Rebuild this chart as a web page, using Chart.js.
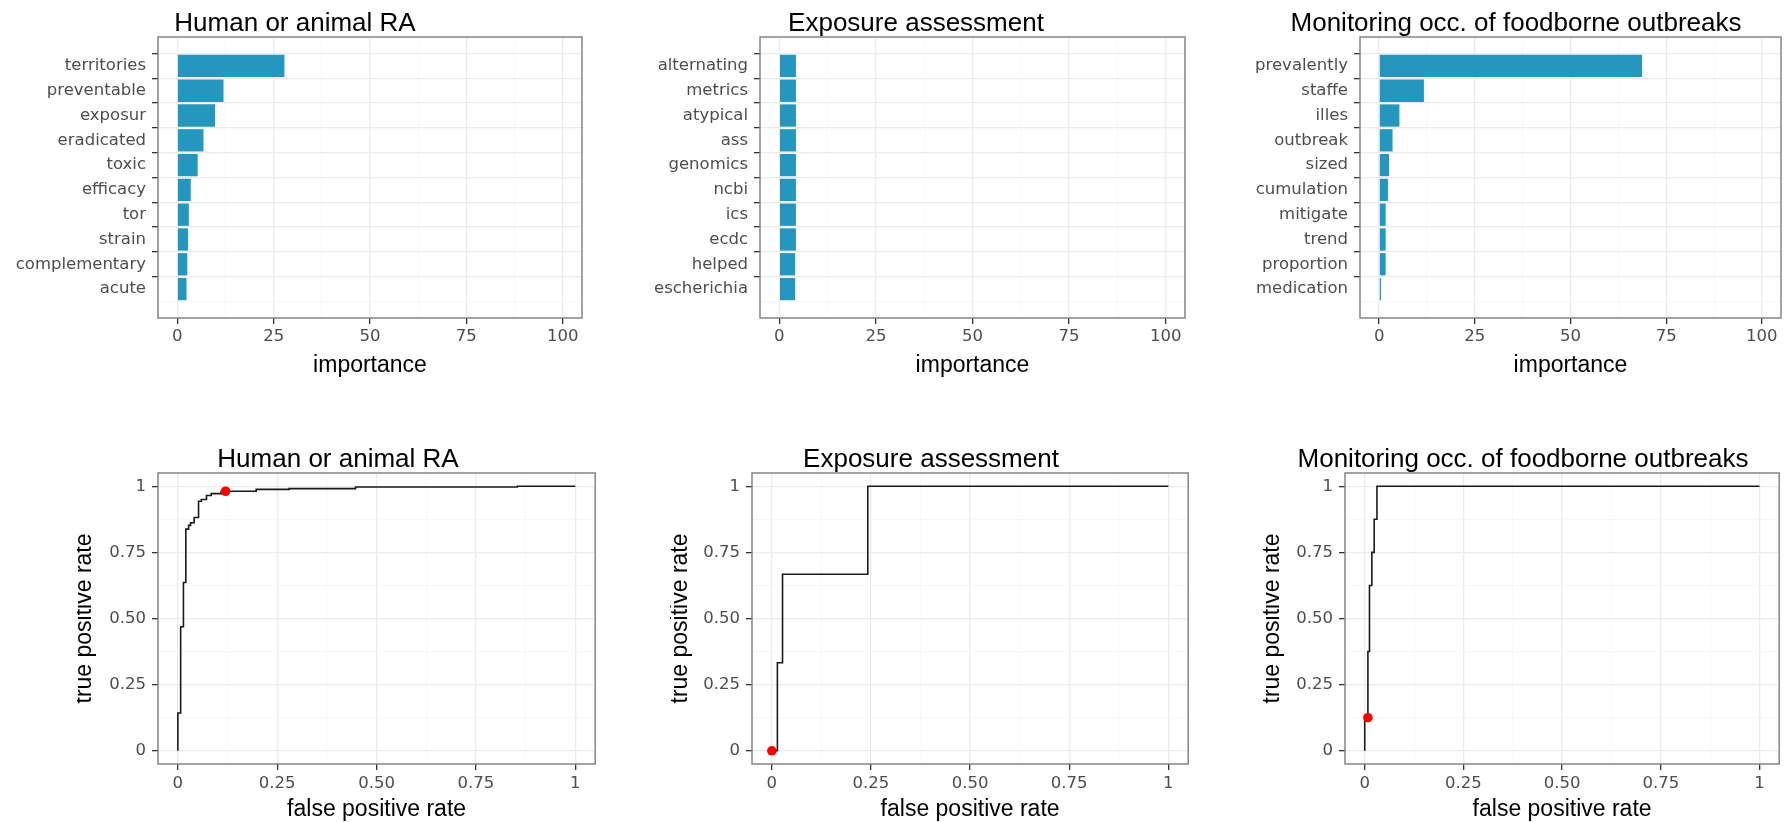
<!DOCTYPE html>
<html><head><meta charset="utf-8">
<script src="https://cdn.jsdelivr.net/npm/chart.js@4.4.1/dist/chart.umd.min.js"></script>
<style>
html,body{margin:0;padding:0;background:#fff;width:1784px;height:822px;overflow:hidden;position:relative}
canvas{position:absolute;display:block}
</style></head><body>
<canvas id="bar1"></canvas><canvas id="bar2"></canvas><canvas id="bar3"></canvas>
<canvas id="roc1"></canvas><canvas id="roc2"></canvas><canvas id="roc3"></canvas>
<script>
// ---------- data ----------
const panelTitles = ["Human or animal RA", "Exposure assessment", "Monitoring occ. of foodborne outbreaks"];

const humanTerms = ["territories","preventable","exposur","eradicated","toxic","efficacy","tor","strain","complementary","acute"];
const humanImportance = [27.8, 12.0, 9.8, 6.8, 5.3, 3.5, 3.0, 2.8, 2.6, 2.4];

const exposureTerms = ["alternating","metrics","atypical","ass","genomics","ncbi","ics","ecdc","helped","escherichia"];
const exposureImportance = [4.3, 4.3, 4.3, 4.3, 4.3, 4.3, 4.3, 4.3, 4.1, 4.1];

const monitoringTerms = ["prevalently","staffe","illes","outbreak","sized","cumulation","mitigate","trend","proportion","medication"];
const monitoringImportance = [68.7, 11.7, 5.3, 3.5, 2.6, 2.3, 1.7, 1.7, 1.7, 0.5];

const importanceTicks = [0, 12.5, 25, 37.5, 50, 62.5, 75, 87.5, 100];
const rateTicks = [0, 0.125, 0.25, 0.375, 0.5, 0.625, 0.75, 0.875, 1];

const humanFpr = [0, 0, 0.007, 0.007, 0.014, 0.014, 0.02, 0.02, 0.027, 0.027, 0.032, 0.032, 0.041, 0.041, 0.052, 0.052, 0.059, 0.059, 0.072, 0.072, 0.084, 0.084, 0.109, 0.109, 0.197, 0.197, 0.28, 0.28, 0.447, 0.447, 0.854, 0.854, 1];
const humanTpr = [0, 0.143, 0.143, 0.469, 0.469, 0.636, 0.636, 0.838, 0.838, 0.852, 0.852, 0.862, 0.862, 0.882, 0.882, 0.943, 0.943, 0.95, 0.95, 0.965, 0.965, 0.972, 0.972, 0.981, 0.981, 0.988, 0.988, 0.991, 0.991, 0.997, 0.997, 1, 1];
const humanCutFpr = [0.12];
const humanCutTpr = [0.981];

const exposureFpr = [0, 0.014, 0.014, 0.027, 0.027, 0.242, 0.242, 1];
const exposureTpr = [0, 0, 0.333, 0.333, 0.667, 0.667, 1, 1];
const exposureCutFpr = [0];
const exposureCutTpr = [0];

const monitoringFpr = [0, 0, 0.008, 0.008, 0.012, 0.012, 0.018, 0.018, 0.024, 0.024, 0.031, 0.031, 1];
const monitoringTpr = [0, 0.125, 0.125, 0.375, 0.375, 0.625, 0.625, 0.75, 0.75, 0.875, 0.875, 1, 1];
const monitoringCutFpr = [0.008];
const monitoringCutTpr = [0.125];

// ---------- style ----------
const TICK_FONT = {family: "'DejaVu Sans'", size: 16.5};
const TICK_COLOR = '#4d4d4d';
const TITLE_FONT = {family: "'Liberation Sans', Arial, sans-serif", size: 26, weight: 'normal', lineHeight: 1};
const AXIS_TITLE_FONT = {family: "'Liberation Sans', Arial, sans-serif", size: 23, weight: 'normal', lineHeight: 1};
const BAR_COLOR = '#2596be';

const boxPlugin = {
  id: 'panelBox',
  afterDraw(chart) {
    const {ctx, chartArea: a} = chart;
    ctx.save();
    ctx.strokeStyle = '#858585';
    ctx.lineWidth = 1.5;
    ctx.strokeRect(a.left, a.top, a.right - a.left, a.bottom - a.top);
    ctx.restore();
  }
};

function gridFor(isMajor) {
  return {
    drawOnChartArea: true, drawTicks: true, tickLength: 6,
    color: c => (c.tick && isMajor(c.tick.value)) ? '#ebebeb' : '#f4f4f4',
    lineWidth: c => (c.tick && isMajor(c.tick.value)) ? 1.3 : 0.7,
    tickColor: c => (c.tick && isMajor(c.tick.value)) ? '#333333' : 'rgba(0,0,0,0)',
    tickWidth: 1.3
  };
}

function place(id, geo) {
  const cv = document.getElementById(id);
  cv.width = geo.w; cv.height = geo.h;
  cv.style.left = geo.x + 'px'; cv.style.top = geo.y + 'px';
  cv.style.width = geo.w + 'px'; cv.style.height = geo.h + 'px';
  return cv;
}

function barPanel(id, geo, title, terms, values) {
  const cv = place(id, geo);
  const isMajor25 = v => Math.abs(v % 25) < 1e-9;
  new Chart(cv, {
    type: 'bar',
    data: {
      datasets: [{
        data: terms.map((t, i) => ({x: values[i], y: i + 1})),
        backgroundColor: BAR_COLOR,
        borderWidth: 0,
        barPercentage: 0.9,
        categoryPercentage: 1
      }]
    },
    options: {
      indexAxis: 'y', responsive: false, animation: false, events: [],
      layout: {padding: {right: 1}},
      plugins: {
        legend: {display: false}, tooltip: {enabled: false},
        title: {display: true, text: title, color: '#000', font: TITLE_FONT, padding: {top: geo.tpt, bottom: geo.tpb}}
      },
      scales: {
        x: {
          type: 'linear', min: -5, max: 105,
          afterBuildTicks: s => { s.ticks = importanceTicks.map(v => ({value: v})); },
          afterFit: s => { s.height = geo.axisH; },
          ticks: {autoSkip: false, maxRotation: 0, font: TICK_FONT, color: TICK_COLOR, padding: 3,
                  callback: v => isMajor25(v) ? String(v) : ''},
          grid: gridFor(isMajor25),
          border: {display: false},
          title: {display: true, text: 'importance', color: '#000', font: AXIS_TITLE_FONT, padding: {top: 0, bottom: geo.xtp}}
        },
        y: {
          type: 'linear', min: 0.4, max: terms.length + 0.6, reverse: true,
          afterBuildTicks: s => { s.ticks = terms.map((t, i) => ({value: i + 1})); },
          afterFit: s => { s.width = geo.axisW; },
          ticks: {autoSkip: false, font: TICK_FONT, color: TICK_COLOR, padding: 6,
                  callback: v => terms[v - 1]},
          grid: gridFor(() => true),
          border: {display: false}
        }
      }
    },
    plugins: [boxPlugin]
  });
}

function rocPanel(id, geo, title, fpr, tpr, cutFpr, cutTpr) {
  const cv = place(id, geo);
  const isMajorQ = v => Math.abs(v * 4 - Math.round(v * 4)) < 1e-9;
  const fmt = v => v === 0 ? '0' : (v === 1 ? '1' : (isMajorQ(v) ? v.toFixed(2) : ''));
  new Chart(cv, {
    type: 'scatter',
    data: {
      datasets: [
        {data: cutFpr.map((x, i) => ({x, y: cutTpr[i]})), pointRadius: 4.8, backgroundColor: '#ff0000', borderWidth: 0, pointBorderWidth: 0},
        {data: fpr.map((x, i) => ({x, y: tpr[i]})), showLine: true, pointRadius: 0, borderColor: '#1a1a1a', borderWidth: 1.6, fill: false}
      ]
    },
    options: {
      responsive: false, animation: false, events: [],
      layout: {padding: {right: 1}},
      plugins: {
        legend: {display: false}, tooltip: {enabled: false},
        title: {display: true, text: title, color: '#000', font: TITLE_FONT, padding: {top: geo.tpt, bottom: geo.tpb}}
      },
      scales: {
        x: {
          type: 'linear', min: -0.05, max: 1.05,
          afterBuildTicks: s => { s.ticks = rateTicks.map(v => ({value: v})); },
          afterFit: s => { s.height = geo.axisH; },
          ticks: {autoSkip: false, maxRotation: 0, font: TICK_FONT, color: TICK_COLOR, padding: 4, callback: fmt},
          grid: gridFor(isMajorQ),
          border: {display: false},
          title: {display: true, text: 'false positive rate', color: '#000', font: AXIS_TITLE_FONT, padding: {top: 0, bottom: geo.xtp}}
        },
        y: {
          type: 'linear', min: -0.05, max: 1.05,
          afterBuildTicks: s => { s.ticks = rateTicks.map(v => ({value: v})); },
          afterFit: s => { s.width = geo.axisW; },
          ticks: {autoSkip: false, font: TICK_FONT, color: TICK_COLOR, padding: 6, callback: fmt},
          grid: gridFor(isMajorQ),
          border: {display: false},
          title: {display: true, text: 'true positive rate', color: '#000', font: AXIS_TITLE_FONT, padding: {top: geo.ytp, bottom: 0}}
        }
      }
    },
    plugins: [boxPlugin]
  });
}

const topGeo = {y: 0, h: 390, axisH: 72, tpt: 11, tpb: 0, xtp: 12.5};
const botGeo = {y: 430, h: 392, axisH: 58, tpt: 17, tpb: 0, xtp: 0.5};

barPanel('bar1', Object.assign({}, topGeo, {x: 8, w: 575, axisW: 150}), panelTitles[0], humanTerms, humanImportance);
barPanel('bar2', Object.assign({}, topGeo, {x: 647, w: 539, axisW: 113}), panelTitles[1], exposureTerms, exposureImportance);
barPanel('bar3', Object.assign({}, topGeo, {x: 1251, w: 531, axisW: 109}), panelTitles[2], monitoringTerms, monitoringImportance);

rocPanel('roc1', Object.assign({}, botGeo, {x: 77, w: 523, axisW: 81, ytp: -3.5}), panelTitles[0], humanFpr, humanTpr, humanCutFpr, humanCutTpr);
rocPanel('roc2', Object.assign({}, botGeo, {x: 670, w: 523, axisW: 82, ytp: -0.5}), panelTitles[1], exposureFpr, exposureTpr, exposureCutFpr, exposureCutTpr);
rocPanel('roc3', Object.assign({}, botGeo, {x: 1263, w: 521, axisW: 82, ytp: -1.5}), panelTitles[2], monitoringFpr, monitoringTpr, monitoringCutFpr, monitoringCutTpr);
</script>
</body></html>
